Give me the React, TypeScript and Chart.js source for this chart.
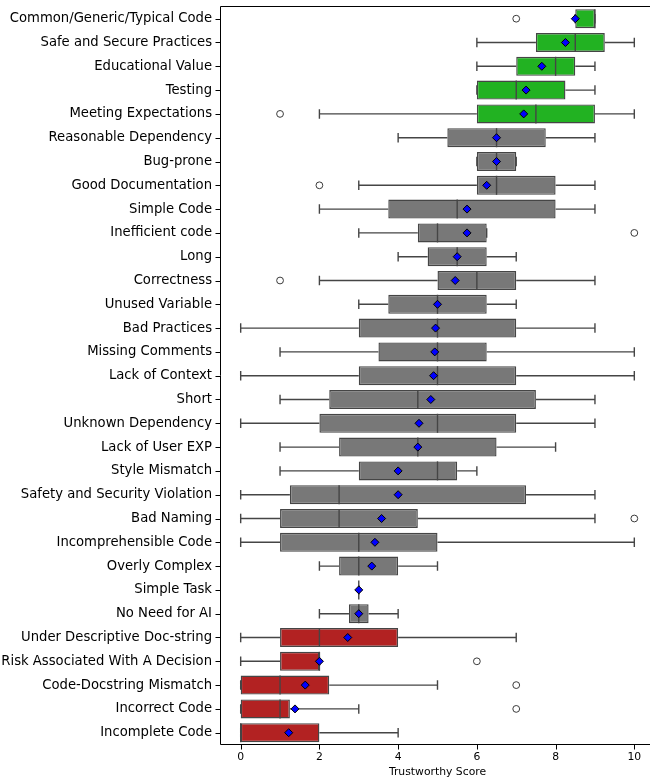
import React, { useEffect, useRef } from "react";
import { Chart, registerables } from "chart.js";

Chart.register(...registerables);

const categories = [
  "Common/Generic/Typical Code",
  "Safe and Secure Practices",
  "Educational Value",
  "Testing",
  "Meeting Expectations",
  "Reasonable Dependency",
  "Bug-prone",
  "Good Documentation",
  "Simple Code",
  "Inefficient code",
  "Long",
  "Correctness",
  "Unused Variable",
  "Bad Practices",
  "Missing Comments",
  "Lack of Context",
  "Short",
  "Unknown Dependency",
  "Lack of User EXP",
  "Style Mismatch",
  "Safety and Security Violation",
  "Bad Naming",
  "Incomprehensible Code",
  "Overly Complex",
  "Simple Task",
  "No Need for AI",
  "Under Descriptive Doc-string",
  "Risk Associated With A Decision",
  "Code-Docstring Mismatch",
  "Incorrect Code",
  "Incomplete Code",
];

const groups = [
  "good", "good", "good", "good", "good",
  "neutral", "neutral", "neutral", "neutral", "neutral", "neutral", "neutral",
  "neutral", "neutral", "neutral", "neutral", "neutral", "neutral", "neutral",
  "neutral", "neutral", "neutral", "neutral", "neutral", "neutral", "neutral",
  "bad", "bad", "bad", "bad", "bad",
];

const whiskerLow = [8.5, 6, 6, 6, 2, 4, 6, 3, 2, 3, 4, 2, 3, 0, 1, 0, 1, 0, 1, 1, 0, 0, 0, 2, 3, 2, 0, 0, 0, 0, 0];
const q1 = [8.5, 7.5, 7, 6, 6, 5.25, 6, 6, 3.75, 4.5, 4.75, 5, 3.75, 3, 3.5, 3, 2.25, 2, 2.5, 3, 1.25, 1, 1, 2.5, 3, 2.75, 1, 1, 0, 0, 0];
const medians = [9, 8.5, 8, 7, 7.5, 6.5, 6.5, 6.5, 5.5, 5, 5.5, 6, 5, 5, 5, 5, 4.5, 5, 4.5, 5, 2.5, 2.5, 3, 3, 3, 3, 2, 2, 1, 1, 0];
const q3 = [9, 9.25, 8.5, 8.25, 9, 7.75, 7, 8, 8, 6.25, 6.25, 7, 6.25, 7, 6.25, 7, 7.5, 7, 6.5, 5.5, 7.25, 4.5, 5, 4, 3, 3.25, 4, 2, 2.25, 1.25, 2];
const whiskerHigh = [9, 10, 9, 9, 10, 9, 7, 9, 9, 6.25, 7, 9, 7, 9, 10, 10, 9, 9, 8, 6, 9, 9, 10, 5, 3, 4, 7, 2, 5, 3, 4];
const means = [8.5, 8.25, 7.65, 7.25, 7.19, 6.5, 6.5, 6.25, 5.75, 5.75, 5.5, 5.45, 5.0, 4.95, 4.93, 4.9, 4.83, 4.53, 4.5, 4.0, 4.0, 3.58, 3.41, 3.33, 3.0, 3.0, 2.72, 2.0, 1.64, 1.38, 1.22];

const outlierCats = [
  "Common/Generic/Typical Code",
  "Meeting Expectations",
  "Good Documentation",
  "Inefficient code",
  "Correctness",
  "Bad Naming",
  "Risk Associated With A Decision",
  "Code-Docstring Mismatch",
  "Incorrect Code",
];
const outlierVals = [7, 1, 2, 10, 1, 10, 6, 7, 7];

const xTicks = [0, 2, 4, 6, 8, 10];

const groupColors: Record<string, string> = {
  good: "#22b222",
  neutral: "#787878",
  bad: "#b22222",
};
const EDGE = "#454545";
const FONT = "'DejaVu Sans', sans-serif";
const TRANSPARENT = "rgba(0,0,0,0)";

const boxPlugin = {
  id: "boxExtras",
  beforeDatasetsDraw(chart: any) {
    const { ctx } = chart;
    const xs = chart.scales.x;
    const ys = chart.scales.y;
    const band = ys.getPixelForValue(1) - ys.getPixelForValue(0);
    const capHalf = band * 0.8 * 0.25;
    ctx.save();
    ctx.strokeStyle = EDGE;
    ctx.lineWidth = 1.4;
    categories.forEach((_, i) => {
      const y = ys.getPixelForValue(i);
      const xl = xs.getPixelForValue(whiskerLow[i]);
      const xq1 = xs.getPixelForValue(q1[i]);
      const xq3 = xs.getPixelForValue(q3[i]);
      const xh = xs.getPixelForValue(whiskerHigh[i]);
      ctx.beginPath();
      ctx.moveTo(xl, y);
      ctx.lineTo(xq1, y);
      ctx.moveTo(xq3, y);
      ctx.lineTo(xh, y);
      ctx.moveTo(xl, y - capHalf);
      ctx.lineTo(xl, y + capHalf);
      ctx.moveTo(xh, y - capHalf);
      ctx.lineTo(xh, y + capHalf);
      ctx.stroke();
    });
    ctx.restore();
  },
  afterDatasetDraw(chart: any, args: any) {
    if (args.index !== 0) return;
    const { ctx } = chart;
    const xs = chart.scales.x;
    const ys = chart.scales.y;
    const band = ys.getPixelForValue(1) - ys.getPixelForValue(0);
    const half = band * 0.8 * 0.5;
    ctx.save();
    ctx.strokeStyle = EDGE;
    ctx.lineWidth = 1.4;
    categories.forEach((_, i) => {
      const y = ys.getPixelForValue(i);
      const xm = xs.getPixelForValue(medians[i]);
      ctx.beginPath();
      ctx.moveTo(xm, y - half);
      ctx.lineTo(xm, y + half);
      ctx.stroke();
    });
    ctx.restore();
  },
  afterDraw(chart: any) {
    const { ctx, chartArea } = chart;
    const xs = chart.scales.x;
    const ys = chart.scales.y;
    const l = Math.round(chartArea.left) - 0.5;
    const t = Math.round(chartArea.top) - 0.5;
    const b = Math.round(chartArea.bottom) - 0.5;
    ctx.save();
    ctx.strokeStyle = "#000";
    ctx.lineWidth = 1;
    ctx.beginPath();
    // spines: top, left, bottom
    ctx.moveTo(l, t);
    ctx.lineTo(chartArea.right, t);
    ctx.moveTo(l, t);
    ctx.lineTo(l, b);
    ctx.lineTo(chartArea.right, b);
    // x tick marks
    xTicks.forEach((v) => {
      const x = Math.round(xs.getPixelForValue(v)) + 0.5;
      ctx.moveTo(x, b);
      ctx.lineTo(x, b + 5);
    });
    // y tick marks
    categories.forEach((_, i) => {
      const y = Math.round(ys.getPixelForValue(i)) + 0.5;
      ctx.moveTo(l, y);
      ctx.lineTo(l - 5, y);
    });
    ctx.stroke();
    ctx.restore();
  },
};

export default function App() {
  const ref = useRef<HTMLCanvasElement | null>(null);

  useEffect(() => {
    if (!ref.current) return;
    const chart = new Chart(ref.current, {
      type: "bar",
      data: {
        labels: categories,
        datasets: [
          {
            type: "bar",
            label: "box",
            data: categories.map((_, i) => [q1[i], q3[i]]) as any,
            backgroundColor: groups.map((g) => groupColors[g]),
            borderColor: EDGE,
            borderWidth: 1.4,
            borderSkipped: false,
            barPercentage: 0.8,
            categoryPercentage: 1,
            order: 3,
          } as any,
          {
            type: "scatter",
            label: "outliers",
            data: outlierCats.map((c, i) => ({ x: outlierVals[i], y: c })) as any,
            pointStyle: "circle",
            pointRadius: 3.4,
            pointBackgroundColor: "#ffffff",
            pointBorderColor: "#3a3a3a",
            pointBorderWidth: 1,
            order: 2,
          } as any,
          {
            type: "scatter",
            label: "mean",
            data: categories.map((c, i) => ({ x: means[i], y: c })) as any,
            pointStyle: "rectRot",
            pointRadius: 4,
            pointBackgroundColor: "#0000ff",
            pointBorderColor: "#000000",
            pointBorderWidth: 1,
            order: 1,
          } as any,
        ],
      },
      options: {
        indexAxis: "y",
        animation: false,
        responsive: false,
        maintainAspectRatio: false,
        layout: { padding: { top: 6.8, right: 6, bottom: 0, left: 0 } },
        plugins: {
          legend: { display: false },
          tooltip: { enabled: false },
        },
        scales: {
          x: {
            type: "linear",
            position: "bottom",
            min: -0.5,
            max: 10.5,
            afterFit: (s: any) => {
              s.height = 36.4;
              s.paddingLeft = 0;
              s.paddingRight = 0;
            },
            afterBuildTicks: (s: any) => {
              s.ticks = xTicks.map((v) => ({ value: v }));
            },
            grid: {
              display: true,
              drawOnChartArea: false,
              drawTicks: true,
              tickLength: 5,
              color: TRANSPARENT,
              lineWidth: 0,
            },
            border: { display: false },
            ticks: {
              color: "#000",
              padding: 1.5,
              font: { family: FONT, size: 10.8 },
              maxRotation: 0,
              autoSkip: false,
            },
            title: {
              display: true,
              text: "Trustworthy Score",
              color: "#000",
              font: { family: FONT, size: 10.8 },
              padding: { top: 0, bottom: 2.5 },
            },
          },
          y: {
            type: "category",
            position: "left",
            offset: true,
            afterFit: (s: any) => {
              s.width = 221;
              s.paddingTop = 0;
              s.paddingBottom = 0;
            },
            grid: {
              display: true,
              offset: false,
              drawOnChartArea: false,
              drawTicks: true,
              tickLength: 5,
              color: TRANSPARENT,
              lineWidth: 0,
            },
            border: { display: false },
            ticks: {
              color: "#000",
              padding: 4,
              autoSkip: false,
              font: { family: FONT, size: 13.2 },
            },
          },
        },
      } as any,
      plugins: [boxPlugin],
    });
    return () => chart.destroy();
  }, []);

  return (
    <div
      style={{
        position: "fixed",
        left: 0,
        top: 0,
        width: 650,
        height: 781,
        overflow: "hidden",
        background: "#fff",
      }}
    >
      <canvas ref={ref} width={660} height={781} style={{ width: 660, height: 781, display: "block" }} />
    </div>
  );
}
